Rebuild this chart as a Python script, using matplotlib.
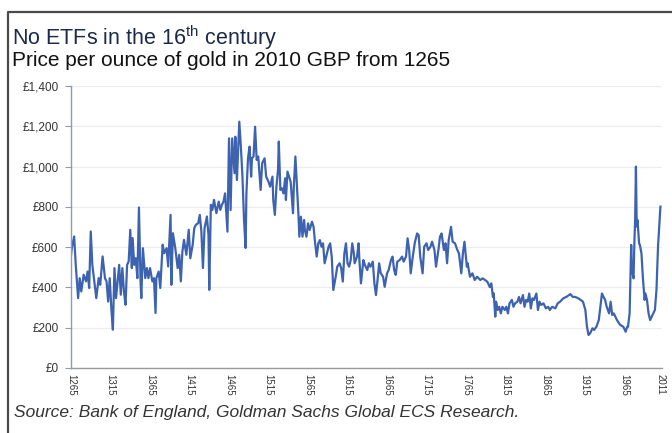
import matplotlib
matplotlib.use("Agg")
import matplotlib.pyplot as plt
from matplotlib.ticker import FuncFormatter, FixedLocator
from matplotlib.lines import Line2D

plt.rcParams['font.family'] = ['Liberation Sans', 'DejaVu Sans']

# Real gold price (2010 GBP per ounce)
years = [
    1265, 1266, 1269, 1271, 1274, 1276, 1278, 1281, 1284, 1286, 1288, 1290, 1292, 1294,
    1297, 1300, 1302, 1305, 1308, 1310, 1312, 1314, 1316, 1318, 1320, 1322, 1324, 1326,
    1328, 1330, 1332, 1334, 1336, 1338, 1340, 1342, 1343, 1345, 1347, 1349, 1351, 1353,
    1354, 1356, 1359, 1361, 1363, 1365, 1368, 1370, 1372, 1373, 1376, 1378, 1381, 1383,
    1386, 1388, 1391, 1392, 1394, 1397, 1400, 1402, 1404, 1406, 1408, 1411, 1414, 1416,
    1419, 1421, 1423, 1426, 1428, 1430, 1432, 1434, 1437, 1439, 1440, 1442, 1444, 1446,
    1449, 1452, 1454, 1456, 1458,
    1460, 1463, 1465, 1467, 1469, 1472, 1473, 1475, 1478, 1480, 1482, 1484, 1486, 1487,
    1489, 1491, 1493, 1494, 1496, 1498, 1500, 1502, 1505, 1507, 1510, 1512, 1515, 1517,
    1520, 1521, 1523, 1525, 1527, 1528, 1530, 1532, 1534, 1536, 1537, 1539, 1541, 1543,
    1546, 1547, 1549, 1551, 1553, 1554, 1556, 1558, 1560, 1561, 1563, 1565, 1567, 1570,
    1572, 1574, 1576, 1578, 1580, 1582, 1584, 1586, 1589, 1591, 1593, 1595, 1597, 1600,
    1602, 1605, 1607, 1609, 1611, 1613, 1615, 1617, 1619, 1621, 1623, 1624, 1627, 1629,
    1630, 1632, 1635, 1637, 1640, 1642, 1644, 1647, 1649, 1651, 1653, 1655, 1657, 1660,
    1662, 1665, 1667, 1670, 1672, 1674, 1676, 1678, 1681, 1684, 1686, 1689, 1691, 1693,
    1695, 1697, 1700, 1703, 1705, 1707, 1710, 1712, 1715, 1717, 1720, 1722, 1725, 1727,
    1730, 1732, 1734, 1737, 1739, 1741, 1743, 1746, 1748, 1751, 1754, 1756, 1759, 1761,
    1763,
    1766, 1767, 1770, 1773, 1776, 1779, 1783, 1786, 1789, 1792, 1795, 1797, 1799, 1800,
    1802, 1803, 1805, 1807, 1809, 1811, 1814, 1816, 1818, 1820, 1823, 1825, 1827, 1830,
    1832, 1834, 1837, 1839, 1841, 1843, 1845, 1847, 1849, 1851, 1854, 1856, 1858, 1860,
    1863, 1866, 1869, 1871, 1874, 1878, 1881, 1884, 1888, 1892, 1897, 1900, 1903, 1907,
    1910, 1913, 1916, 1918, 1920, 1922, 1925, 1927, 1930, 1933, 1935, 1937, 1939, 1941,
    1943, 1946, 1948, 1950, 1952, 1956, 1960, 1964, 1967, 1969, 1970, 1972, 1974, 1975,
    1977, 1978, 1979, 1980, 1981, 1982, 1984, 1985, 1987, 1989, 1991, 1992, 1994, 1996,
    1998, 2000, 2002, 2004, 2006, 2008, 2011,
]
prices = [
    560, 595, 653, 512, 347, 446, 380, 463, 430, 479, 397, 678, 512, 446,
    347, 446, 413, 554, 446, 430, 330, 446, 297, 190, 496, 347, 430, 512,
    364, 496, 380, 314, 512, 529, 686, 496, 645, 512, 545, 446, 797, 430,
    347, 595, 446, 496, 446, 496, 430, 446, 273, 446, 479, 397, 612, 570,
    595, 504, 760, 413, 669, 595, 496, 562, 430, 579, 636, 562, 686, 545,
    612, 694, 711, 719, 760, 678, 496, 694, 752, 661, 388, 810, 785, 835,
    769, 826, 785, 810, 826,
    867, 677, 1140, 784, 1140, 967, 1148, 933, 1223, 1099, 950, 735, 596, 867,
    1041, 1099, 950, 1041, 1050, 1198, 1033, 1050, 884, 1017, 1041, 950, 925, 900,
    950, 834, 760, 900, 983, 1124, 884, 892, 867, 942, 834, 975, 950, 925,
    768, 900, 1050, 900, 751, 652, 751, 652, 735, 685, 652, 718, 685, 726,
    701, 619, 553, 619, 635, 602, 619, 520, 569, 602, 619, 553, 387, 453,
    503, 520, 495, 429, 569, 619, 520, 503, 536, 619, 569, 520, 553, 619,
    536, 420, 536, 511, 486, 520, 503, 528, 420, 362, 437, 520, 470, 453,
    403, 470, 486, 536, 553, 486, 462, 528, 536, 553, 528, 553, 644, 586,
    470, 536, 619, 668, 660, 553, 470, 602, 619, 586, 602, 627, 586, 503,
    586, 652, 668, 586, 619, 520, 635, 701, 627, 619, 586, 569, 470, 569,
    627,
    503, 520, 453, 470, 437, 453, 437, 445, 437, 428, 402, 420, 353, 370,
    255, 329, 288, 304, 271, 304, 288, 304, 271, 321, 338, 304, 321, 329,
    353, 321, 362, 304, 338, 329, 370, 296, 346, 338, 370, 288, 329, 313,
    321, 296, 304, 288, 304, 296, 321, 329, 346, 353, 367, 353, 353, 346,
    338, 329, 288, 205, 164, 172, 197, 189, 205, 238, 304, 370, 353, 338,
    304, 271, 329, 263, 271, 238, 214, 205, 180, 205, 205, 271, 611, 487,
    445, 619, 735, 1000, 702, 735, 619, 611, 569, 437, 338, 370, 338, 271,
    238, 255, 271, 288, 387, 606, 801,
]

x_ticks = [1265, 1315, 1365, 1415, 1465, 1515, 1565, 1615, 1665, 1715,
           1765, 1815, 1865, 1915, 1965, 2011]
y_ticks = [0, 200, 400, 600, 800, 1000, 1200, 1400]

title = "No ETFs in the 16$^{\\mathregular{th}}$ century"
subtitle = "Price per ounce of gold in 2010 GBP from 1265"
source = "Source: Bank of England, Goldman Sachs Global ECS Research."

fig = plt.figure(figsize=(6.72, 4.33), dpi=100)
fig.patch.set_facecolor('white')

ax = fig.add_axes([71 / 672, 1 - 368 / 433, 591 / 672, 282 / 433])
ax.plot(years, prices, color='#3d63b0', lw=1.6, solid_joinstyle='round')

ax.set_xlim(1265, 2013)
ax.set_ylim(0, 1400)
ax.xaxis.set_major_locator(FixedLocator(x_ticks))
ax.yaxis.set_major_locator(FixedLocator(y_ticks))
ax.yaxis.set_major_formatter(FuncFormatter(lambda v, p: "£{:,.0f}".format(v)))

ax.grid(axis='y', color='#ececec', lw=0.8)
ax.set_axisbelow(True)
for s in ('top', 'right'):
    ax.spines[s].set_visible(False)
ax.spines['left'].set_color('#8d9bb8')
ax.spines['left'].set_linewidth(1.0)
ax.spines['bottom'].set_color('#9a9a9a')
ax.spines['bottom'].set_linewidth(1.0)

ax.tick_params(axis='y', direction='out', length=4, width=0.8, color='#8d9bb8',
               labelsize=8.5, labelcolor='#333333', pad=5)
ax.tick_params(axis='x', direction='out', length=0, labelsize=7,
               labelcolor='#333333', pad=4)
for lab in ax.get_xticklabels():
    lab.set_rotation(-90)
    lab.set_va('top')
    lab.set_ha('center')

fig.text(12 / 672, 1 - 38 / 433, title, fontsize=15.5, color='#1c2a48', va='center')
fig.text(12 / 672, 1 - 60 / 433, subtitle, fontsize=15, color='#111111', va='center')
fig.text(14 / 672, 1 - 412 / 433, source, fontsize=12.5, style='italic',
         color='#333333', va='center')

# Outer frame
fig.add_artist(Line2D([8 / 672, 8 / 672, 1.0], [0.0, 1 - 12 / 433, 1 - 12 / 433],
                      transform=fig.transFigure, color='#4a4a4a', lw=1.6))

fig.savefig('out.png', dpi=100)
